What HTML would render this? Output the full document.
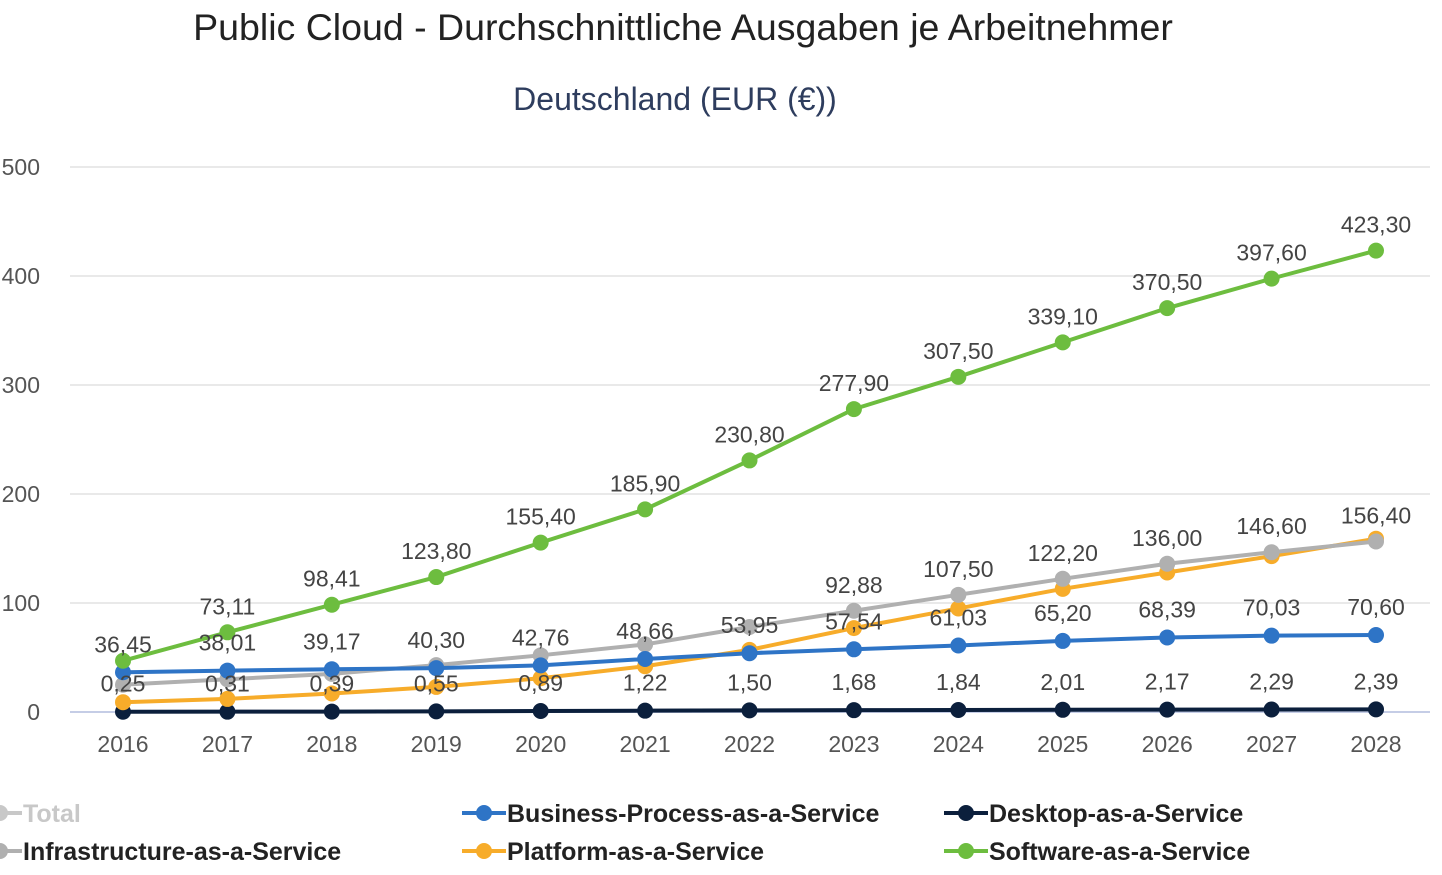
<!DOCTYPE html>
<html><head><meta charset="utf-8">
<style>
body{margin:0;background:#fff;font-family:"Liberation Sans",sans-serif;}
svg text{font-family:"Liberation Sans",sans-serif;}
</style></head>
<body>
<svg width="1442" height="870" viewBox="0 0 1442 870" xmlns="http://www.w3.org/2000/svg">
<text x="683" y="40" font-size="37.5" fill="#222" text-anchor="middle">Public Cloud - Durchschnittliche Ausgaben je Arbeitnehmer</text>
<text x="675" y="110" font-size="32" fill="#2e3d5e" text-anchor="middle">Deutschland (EUR (€))</text>
<g id="grid"></g><g id="series"></g><g id="labels"></g>
<g id="legend"></g>
</svg>
<script>
const years=["2016","2017","2018","2019","2020","2021","2022","2023","2024","2025","2026","2027","2028"];
const yTicks=[0,100,200,300,400,500];
const infra=[25,30,35,43,52,62,78,92.88,107.5,122.2,136,146.6,156.4];
const bpaas=[36.45,38.01,39.17,40.30,42.76,48.66,53.95,57.54,61.03,65.20,68.39,70.03,70.60];
const daas=[0.25,0.31,0.39,0.55,0.89,1.22,1.50,1.68,1.84,2.01,2.17,2.29,2.39];
const paas=[9,12,17,23,31,42,57,77,95,113,128,143,159];
const saas=[47,73.11,98.41,123.8,155.4,185.9,230.8,277.9,307.5,339.1,370.5,397.6,423.3];
const bpaasLabels=["36,45","38,01","39,17","40,30","42,76","48,66","53,95","57,54","61,03","65,20","68,39","70,03","70,60"];
const daasLabels=["0,25","0,31","0,39","0,55","0,89","1,22","1,50","1,68","1,84","2,01","2,17","2,29","2,39"];
const saasLabels=["","73,11","98,41","123,80","155,40","185,90","230,80","277,90","307,50","339,10","370,50","397,60","423,30"];
const infraLabels=["","","","","","","","92,88","107,50","122,20","136,00","146,60","156,40"];
const NS="http://www.w3.org/2000/svg";
const X=i=>123+i*(1376-123)/12;
const Y=v=>712-v*(712-167)/500;
function mk(t,a,p){const e=document.createElementNS(NS,t);for(const k in a)e.setAttribute(k,a[k]);p.appendChild(e);return e;}
const grid=document.getElementById('grid');
yTicks.forEach(t=>{
 const l=mk('line',{x1:70,x2:1430,y1:Y(t),y2:Y(t),stroke:t===0?'#c5cde6':'#e2e2e2','stroke-width':t===0?2:1.5},grid);
 
 
 const tx=mk('text',{x:40,y:Y(t)+8,'font-size':23,fill:'#555','text-anchor':'end'},grid);tx.textContent=t;
 
 
});
years.forEach((y,i)=>{
 const tx=mk('text',{x:X(i),y:752,'font-size':23,fill:'#555','text-anchor':'middle'},grid);tx.textContent=y;
 
 
});
const S=document.getElementById('series');
function series(vals,col,name){
 const g=mk('g',{},S);
 
 
 mk('polyline',{points:vals.map((v,i)=>X(i)+','+Y(v)).join(' '),fill:'none',stroke:col,'stroke-width':4},g);
 vals.forEach((v,i)=>{const c=mk('circle',{cx:X(i),cy:Y(v),r:8,fill:col},g);
  
  });
}
series(daas,'#0b1f3c','desktop-as-a-service');
series(paas,'#f7ac2a','platform-as-a-service');
series(infra,'#b0b0b0','infrastructure-as-a-service');
series(bpaas,'#2e74c6','business-process-as-a-service');
series(saas,'#6dbd3f','software-as-a-service');
const L=document.getElementById('labels');
function labels(vals,labs,dy,name){
 vals.forEach((v,i)=>{if(!labs[i])return;
  const t=mk('text',{x:X(i),y:Y(v)-dy,'font-size':23,fill:'#444','text-anchor':'middle'},L);t.textContent=labs[i];
  
  });
}
labels(saas,saasLabels,18,'software-as-a-service');
labels(infra,infraLabels,18,'infrastructure-as-a-service');
labels(bpaas,bpaasLabels,20,'business-process-as-a-service');
labels(daas,daasLabels,20,'desktop-as-a-service');
const LG=document.getElementById('legend');
const legendItems=[["Total","#c8c8c8",0,813,true],["Business-Process-as-a-Service","#2e74c6",484,813],["Desktop-as-a-Service","#0b1f3c",966,813],
["Infrastructure-as-a-Service","#b0b0b0",0,851],["Platform-as-a-Service","#f7ac2a",484,851],["Software-as-a-Service","#6dbd3f",966,851]];
legendItems.forEach(it=>{
 const g=mk('g',{},LG);
 
 
 mk('line',{x1:it[2]-22,x2:it[2]+22,y1:it[3],y2:it[3],stroke:it[1],'stroke-width':4},g);
 mk('circle',{cx:it[2],cy:it[3],r:8,fill:it[1]},g);
 const t=mk('text',{x:it[2]+23,y:it[3]+9,'font-size':25,'font-weight':'bold',fill:it[4]?'#c8c8c8':'#222'},g);t.textContent=it[0];
});
</script>
</body></html>
